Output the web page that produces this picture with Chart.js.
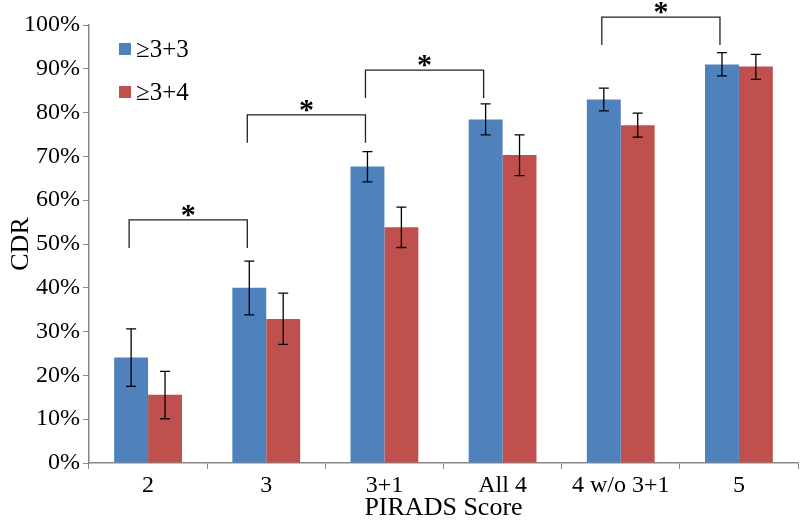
<!DOCTYPE html>
<html lang="en">
<head>
<meta charset="UTF-8">
<title>CDR by PIRADS Score</title>
<script src="https://cdn.jsdelivr.net/npm/chart.js"></script>
<style>
  html, body { margin: 0; padding: 0; background: #fff; }
  #wrap { width: 800px; height: 524px; }
</style>
</head>
<body>
<div id="wrap"><canvas id="myChart" width="800" height="524"></canvas></div>
<script>
// data (percent)
const categories = ['2', '3', '3+1', 'All 4', '4 w/o 3+1', '5'];
const seriesNames = ['\u22653+3', '\u22653+4'];
const cdr33 = [24.1, 40.0, 67.7, 78.4, 83.0, 91.0];
const cdr33Low = [17.5, 33.8, 64.2, 74.9, 80.4, 88.4];
const cdr33High = [30.6, 46.1, 71.1, 82.0, 85.6, 93.7];
const cdr34 = [15.6, 32.9, 53.8, 70.3, 77.1, 90.5];
const cdr34Low = [10.1, 27.1, 49.2, 65.6, 74.4, 87.6];
const cdr34High = [20.9, 38.8, 58.4, 74.9, 79.9, 93.3];
const yTicks = [0, 10, 20, 30, 40, 50, 60, 70, 80, 90, 100];
// significance brackets: [from category, to category, level in %]
const brackets = [[0, 1, 55.5], [1, 2, 79.5], [2, 3, 89.7], [4, 5, 101.8]];

const serif = '"Liberation Serif", "Times New Roman", serif';
const lows = [cdr33Low, cdr34Low];
const highs = [cdr33High, cdr34High];

// error bars with caps
const errorBars = {
  id: 'errorBars',
  afterDatasetsDraw(chart) {
    const ctx = chart.ctx;
    const y = chart.scales.y;
    ctx.save();
    ctx.strokeStyle = '#000';
    ctx.lineWidth = 1.3;
    chart.data.datasets.forEach((ds, di) => {
      chart.getDatasetMeta(di).data.forEach((bar, i) => {
        const x = bar.x;
        const top = y.getPixelForValue(highs[di][i]);
        const bot = y.getPixelForValue(lows[di][i]);
        ctx.beginPath();
        ctx.moveTo(x, top); ctx.lineTo(x, bot);
        ctx.moveTo(x - 5, top); ctx.lineTo(x + 5, top);
        ctx.moveTo(x - 5, bot); ctx.lineTo(x + 5, bot);
        ctx.stroke();
      });
    });
    ctx.restore();
  }
};

// brackets with asterisks
const sigBrackets = {
  id: 'sigBrackets',
  afterDatasetsDraw(chart) {
    const ctx = chart.ctx;
    const y = chart.scales.y;
    const meta = chart.getDatasetMeta(0);
    ctx.save();
    ctx.strokeStyle = '#222';
    ctx.lineWidth = 1.3;
    ctx.fillStyle = '#000';
    ctx.font = 'bold 30px ' + serif;
    ctx.textAlign = 'center';
    ctx.textBaseline = 'middle';
    brackets.forEach(([a, b, lvl]) => {
      const x1 = meta.data[a].x - 2;
      const x2 = meta.data[b].x - 2;
      const yy = y.getPixelForValue(lvl);
      ctx.beginPath();
      ctx.moveTo(x1, yy + 28);
      ctx.lineTo(x1, yy);
      ctx.lineTo(x2, yy);
      ctx.lineTo(x2, yy + 28);
      ctx.stroke();
      ctx.fillText('*', (x1 + x2) / 2, yy - 4);
    });
    ctx.restore();
  }
};

// legend inside the plot, top left
const innerLegend = {
  id: 'innerLegend',
  afterDraw(chart) {
    const ctx = chart.ctx;
    ctx.save();
    ctx.font = '25px ' + serif;
    ctx.textBaseline = 'middle';
    chart.data.datasets.forEach((ds, i) => {
      const cy = 49 + i * 43;
      ctx.fillStyle = ds.backgroundColor;
      ctx.fillRect(119, cy - 6, 12, 12);
      ctx.fillStyle = '#000';
      ctx.fillText(ds.label, 136, cy + 1);
    });
    ctx.restore();
  }
};

new Chart(document.getElementById('myChart').getContext('2d'), {
  type: 'bar',
  data: {
    labels: categories,
    datasets: [
      { label: seriesNames[0], data: cdr33, backgroundColor: '#4F81BD' },
      { label: seriesNames[1], data: cdr34, backgroundColor: '#C0504D' }
    ]
  },
  options: {
    responsive: false,
    animation: false,
    layout: { padding: { top: 25, right: 2, left: 0, bottom: 0 } },
    datasets: { bar: { categoryPercentage: 0.574, barPercentage: 1.0 } },
    plugins: {
      legend: { display: false },
      tooltip: { enabled: false }
    },
    scales: {
      x: {
        offset: true,
        grid: {
          offset: true,
          drawOnChartArea: false,
          drawTicks: true,
          tickLength: 6,
          color: '#888'
        },
        border: { color: '#888', width: 1.5 },
        ticks: { color: '#000', font: { family: serif, size: 24 }, padding: 2 },
        title: {
          display: true,
          text: 'PIRADS Score',
          color: '#000',
          font: { family: serif, size: 26 },
          padding: { top: 0, bottom: 0 }
        },
        afterFit(scale) { scale.height = 61; }
      },
      y: {
        min: 0,
        max: 100,
        afterBuildTicks(scale) { scale.ticks = yTicks.map(v => ({ value: v })); },
        grid: {
          drawOnChartArea: false,
          drawTicks: true,
          tickLength: 6,
          color: '#888'
        },
        border: { color: '#888', width: 1.5 },
        ticks: {
          color: '#000',
          font: { family: serif, size: 24 },
          padding: 3,
          callback: v => v + '%'
        },
        title: {
          display: true,
          text: 'CDR',
          color: '#000',
          font: { family: serif, size: 26 },
          padding: { top: 6, bottom: 0 }
        },
        afterFit(scale) { scale.width = 89; }
      }
    }
  },
  plugins: [errorBars, sigBrackets, innerLegend]
});
</script>
</body>
</html>
